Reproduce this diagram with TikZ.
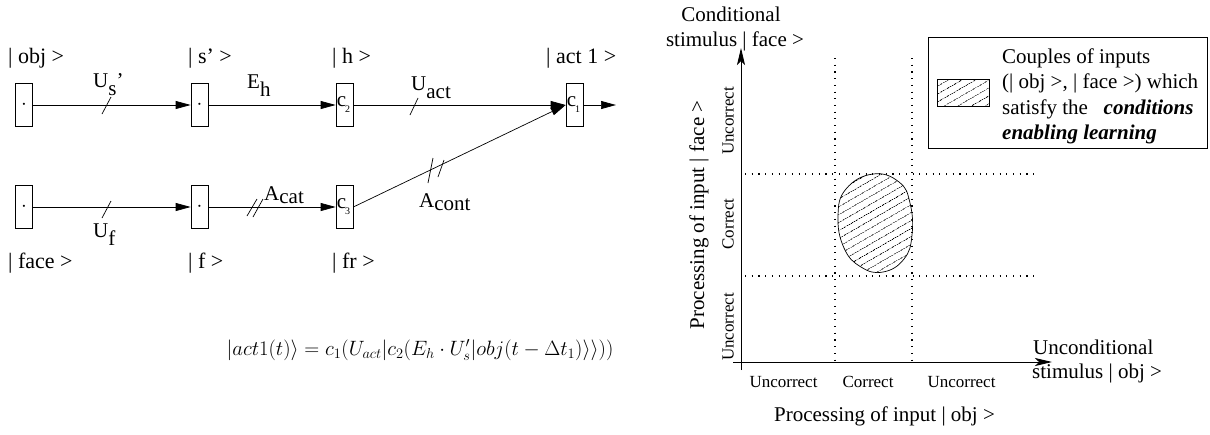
\documentclass[tikz,border=0pt]{standalone}
\usepackage[no-math]{fontspec}
\setmainfont{Liberation Serif}
\usetikzlibrary{arrows.meta,patterns.meta}
\newcommand\lo[2][8pt]{\raisebox{-#1}{#2}}
\newcommand\csub[1]{\kern-2pt c\kern-1pt\raisebox{-6pt}{\fontsize{10}{10}\selectfont #1}}
\begin{document}
\begin{tikzpicture}[x=1pt,y=-1pt,
  cell/.style={draw,line width=0.7pt,minimum width=17pt,minimum height=43pt,inner sep=0pt,font=\fontsize{21}{24}\selectfont},
  state/.style={font=\fontsize{22}{26}\selectfont,inner sep=0pt,anchor=base west},
  lbl/.style={font=\fontsize{21}{25}\selectfont,inner sep=0pt,anchor=base west},
  conn/.style={line width=0.7pt,-{Triangle[length=15pt,width=8pt]}},
  tickmark/.style={line width=0.7pt},
  dots/.style={line width=1.1pt,dash pattern=on 1.1pt off 5.6pt},
  ax/.style={line width=0.8pt,-{Stealth[length=17pt,width=8pt,inset=4pt]}},
  ticklbl/.style={font=\fontsize{17}{20}\selectfont,inner sep=0pt,anchor=base},
  axlbl/.style={font=\fontsize{21}{25}\selectfont,inner sep=0pt},
  hatch/.style={pattern={Lines[angle=30,distance=6.5pt,line width=0.6pt]}},
]
\useasboundingbox (0,0) rectangle (1210,434);

% ---------------- left: network ----------------
\node[cell] (b1) at (24,105) {$\cdot$};
\node[cell] (b2) at (199.5,105) {$\cdot$};
\node[cell] (c2) at (344.5,105) {\csub{2}};
\node[cell] (c1) at (574.5,105) {\csub{1}};
\node[cell] (b4) at (24,207) {$\cdot$};
\node[cell] (b5) at (199.5,207) {$\cdot$};
\node[cell] (c3) at (344.5,207) {\csub{3}};
\coordinate (out) at (616,105);

\draw[conn] (b1.east) -- (b2.west);
\draw[conn] (b2.east) -- (c2.west);
\draw[conn] (c2.east) -- (c1.west);
\draw[conn] (c1.east) -- (out);
\draw[conn] (b4.east) -- (b5.west);
\draw[conn] (b5.east) -- (c3.west);
\draw[conn] (c3.east) -- (c1.west);

% marks on the connectors
\draw[tickmark] (102,114) -- (111,97);
\draw[tickmark] (102,218) -- (111,201);
\draw[tickmark] (247,216) -- (257,199);
\draw[tickmark] (253,217) -- (263,199);
\draw[tickmark] (410,115) -- (418,98);
\draw[tickmark] (428,183) -- (433,158);
\draw[tickmark] (438,177) -- (444,160);

% state labels
\node[state] (sobj) at (8,63) {| obj >};
\node[state] (ss) at (188,63) {| s' >};
\node[state] (sh) at (332,63) {| h >};
\node[state] (sact) at (546,63) {| act 1 >};
\node[state] (sface) at (8,268) {| face >};
\node[state] (sf) at (188,268) {| f >};
\node[state] (sfr) at (332,268) {| fr >};

% connector labels
\node[lbl] (lus) at (93,87) {U\lo{s}'};
\node[lbl] (leh) at (247,88) {E\lo{h}};
\node[lbl] (luact) at (411,90) {U\lo{act}};
\node[lbl] (lacat) at (264,200) {A\lo[3pt]{cat}};
\node[lbl] (luf) at (93,237) {U\lo{f}};
\node[lbl] (lacont) at (419,207) {A\lo[3pt]{cont}};

% formula
\node[font=\fontsize{21}{25}\selectfont,inner sep=0pt,anchor=base] (eq) at (420,355)
  {$|act1(t)\rangle = c_1(U_{act}|c_2(E_h\cdot U'_s|obj(t-\Delta t_1)\rangle\rangle))$};

% ---------------- right: chart ----------------
\draw[dots] (835,58) -- (835,362);
\draw[dots] (912,58) -- (912,362);
\draw[dots] (745,174) -- (1035,174);
\draw[dots] (745,276) -- (1035,276);

\draw[ax] (741,370) -- (741,48);
\draw[ax] (733,362) -- (1052,362);

\draw[line width=0.7pt,hatch] plot[smooth cycle,tension=0.75] coordinates
  {(873,174) (899,182) (910,203) (912,235) (904,259) (883,272) (861,267) (844,248) (838,216) (846,189)};

% legend
\node[draw,line width=0.7pt,minimum width=279pt,minimum height=111pt,inner sep=0pt] (legend) at (1067.5,92.5) {};
\draw[line width=0.7pt,hatch] (937,79) rectangle (989,106);
\node[lbl] (lg1) at (1002,63) {Couples of inputs};
\node[lbl] (lg2) at (1002,88.5) {(| obj >, | face >) which};
\node[lbl] (lg3) at (1002,114) {satisfy the \ \ \textbf{\textit{conditions}}};
\node[lbl] (lg4) at (1002,139.5) {\textbf{\textit{enabling learning}}};

% axis titles
\node[axlbl,anchor=base] (cond1) at (731,21) {Conditional};
\node[axlbl,anchor=base] (cond2) at (735,46) {stimulus | face >};
\node[axlbl,anchor=base west] (unc1) at (1033,354) {Unconditional};
\node[axlbl,anchor=base west] (unc2) at (1032,378) {stimulus | obj >};
\node[axlbl,anchor=base] (xlab) at (884.5,421) {Processing of input | obj >};
\node[axlbl,anchor=base,rotate=90] (ylab) at (704,215) {Processing of input | face >};

% tick labels
\node[ticklbl] (x1) at (783.5,387) {Uncorrect};
\node[ticklbl] (x2) at (868,387) {Correct};
\node[ticklbl] (x3) at (961.5,387) {Uncorrect};
\node[ticklbl,rotate=90] (y1) at (733.5,121) {Uncorrect};
\node[ticklbl,rotate=90] (y2) at (733.5,224) {Correct};
\node[ticklbl,rotate=90] (y3) at (733.5,327) {Uncorrect};
\end{tikzpicture}
\end{document}
